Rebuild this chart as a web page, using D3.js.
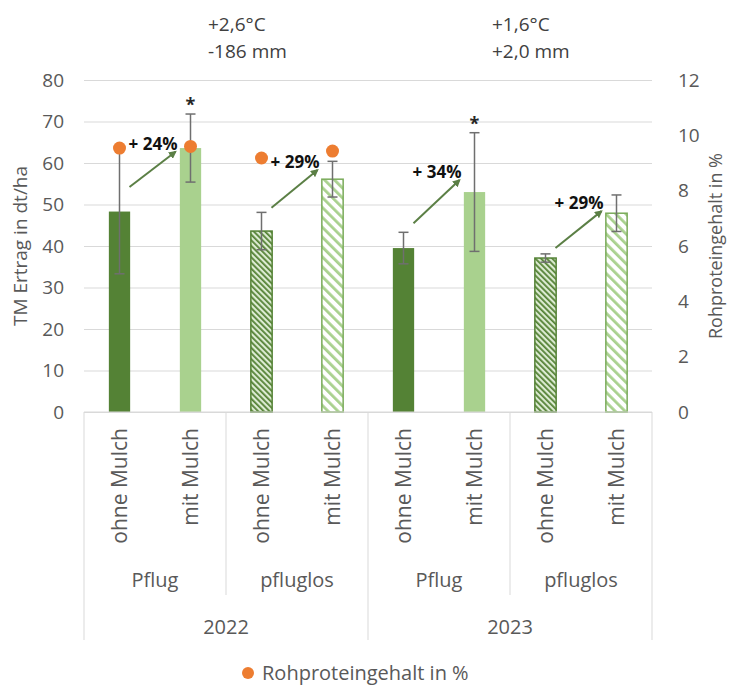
<!DOCTYPE html>
<html lang="de">
<head>
    <meta charset="UTF-8">
    <script src="https://d3js.org/d3.v7.min.js"></script>
    <style>
        body { margin: 0; background: #fff; }
        text { font-family: "Open Sans", sans-serif; }
    </style>
    <title>TM Ertrag und Rohproteingehalt</title>
</head>
<body>
    <script>
        // Data
        const years = ["2022", "2023"];
        const tillage = ["Pflug", "pfluglos"];
        const mulch = ["ohne Mulch", "mit Mulch"];
        const yieldMean = [48.3, 63.6, 43.6, 56.1, 39.5, 53.0, 37.1, 47.9];
        const yieldErr = [15.0, 8.2, 4.5, 4.3, 3.8, 14.3, 1.0, 4.4];
        const protein = [9.54, 9.6, 9.18, 9.43, null, null, null, null];
        const significant = [false, true, false, false, false, true, false, false];
        const gainLabels = ["+ 24%", "+ 29%", "+ 34%", "+ 29%"];
        const arrowFrom = [54.2, 49.2, 45.5, 39.5];
        const arrowTo = [62.7, 58.3, 55.9, 48.4];
        const climate = [["+2,6°C", "-186 mm"], ["+1,6°C", "+2,0 mm"]];
        const yTicks = [0, 10, 20, 30, 40, 50, 60, 70, 80];
        const y2Ticks = [0, 2, 4, 6, 8, 10, 12];

        const width = 730, height = 686;
        const margin = { top: 80, right: 78, bottom: 274, left: 84 };
        const plotW = width - margin.left - margin.right;
        const plotH = height - margin.top - margin.bottom;
        const grey = "#595959";

        // one row per bar
        const rows = [];
        years.forEach(yr => tillage.forEach(t => mulch.forEach(m => {
            const i = rows.length;
            rows.push({ key: yr + t + m, year: yr, till: t, mulch: m,
                value: yieldMean[i], err: yieldErr[i], protein: protein[i], star: significant[i] });
        })));

        const svg = d3.select("body").append("svg")
            .attr("width", width).attr("height", height);

        const defs = svg.append("defs");
        function hatch(id, bg, stroke, size, sw) {
            const p = defs.append("pattern").attr("id", id)
                .attr("patternUnits", "userSpaceOnUse")
                .attr("width", size).attr("height", size)
                .attr("patternTransform", "rotate(-45)");
            p.append("rect").attr("width", size).attr("height", size).attr("fill", bg);
            p.append("rect").attr("width", sw).attr("height", size).attr("fill", stroke);
        }
        hatch("hatchDark", "#dcebd2", "#548235", 4, 1.8);
        hatch("hatchLight", "#ffffff", "#a9d18e", 7, 2.8);

        const g = svg.append("g").attr("transform", `translate(${margin.left},${margin.top})`);

        const x = d3.scaleBand().domain(rows.map(d => d.key)).range([0, plotW]).padding(0);
        const y = d3.scaleLinear().domain([0, 80]).range([plotH, 0]);
        const y2 = d3.scaleLinear().domain([0, 12]).range([plotH, 0]);
        const barW = x.bandwidth() * 0.3;
        const cx = d => x(d.key) + x.bandwidth() / 2;

        // gridlines
        g.append("g")
            .call(d3.axisLeft(y).tickValues(yTicks).tickSize(-plotW).tickFormat(""))
            .call(a => a.select(".domain").remove())
            .call(a => a.selectAll("line").attr("stroke", "#d9d9d9").attr("stroke-width", 1));

        // left axis labels
        g.append("g")
            .call(d3.axisLeft(y).tickValues(yTicks).tickSize(0).tickPadding(20))
            .call(a => a.select(".domain").remove())
            .call(a => a.selectAll("text").style("font-size", "19px").style("fill", grey));

        // right axis labels
        g.append("g").attr("transform", `translate(${plotW},0)`)
            .call(d3.axisRight(y2).tickValues(y2Ticks).tickSize(0).tickPadding(26))
            .call(a => a.select(".domain").remove())
            .call(a => a.selectAll("text").style("font-size", "19px").style("fill", grey));

        // axis titles
        g.append("text")
            .attr("transform", `translate(${-64},${plotH / 2}) rotate(-90)`)
            .attr("text-anchor", "middle").attr("dy", "0.35em")
            .style("font-size", "19px").style("fill", grey).text("TM Ertrag in dt/ha");
        g.append("text")
            .attr("transform", `translate(${plotW + 64},${plotH / 2}) rotate(-90)`)
            .attr("text-anchor", "middle").attr("dy", "0.35em")
            .style("font-size", "18px").style("fill", grey).text("Rohproteingehalt in %");

        // bars
        function barFill(d) {
            if (d.till === "Pflug") return d.mulch === "ohne Mulch" ? "#548235" : "#a9d18e";
            return d.mulch === "ohne Mulch" ? "url(#hatchDark)" : "url(#hatchLight)";
        }
        g.selectAll("rect.bar").data(rows).enter().append("rect")
            .attr("class", "bar")
            .attr("x", d => cx(d) - barW / 2)
            .attr("y", d => y(d.value))
            .attr("width", barW)
            .attr("height", d => plotH - y(d.value))
            .attr("fill", barFill)
            .attr("stroke", d => d.till === "Pflug" ? "none" : (d.mulch === "ohne Mulch" ? "#548235" : "#7aab5a"))
            .attr("stroke-width", 1.5);

        // x axis baseline
        g.append("line").attr("x1", 0).attr("x2", plotW).attr("y1", plotH).attr("y2", plotH)
            .attr("stroke", "#d9d9d9");

        // error bars
        const eb = g.selectAll("g.err").data(rows).enter().append("g").attr("class", "err")
            .attr("stroke", "#6f6f6f").attr("stroke-width", 1.5);
        eb.append("line").attr("x1", cx).attr("x2", cx)
            .attr("y1", d => y(d.value + d.err)).attr("y2", d => y(d.value - d.err));
        eb.append("line").attr("x1", d => cx(d) - 5).attr("x2", d => cx(d) + 5)
            .attr("y1", d => y(d.value + d.err)).attr("y2", d => y(d.value + d.err));
        eb.append("line").attr("x1", d => cx(d) - 5).attr("x2", d => cx(d) + 5)
            .attr("y1", d => y(d.value - d.err)).attr("y2", d => y(d.value - d.err));

        // significance stars
        g.selectAll("text.star").data(rows.filter(d => d.star)).enter().append("text")
            .attr("class", "star")
            .attr("x", cx).attr("y", d => y(d.value + d.err) - 3)
            .attr("text-anchor", "middle")
            .style("font-size", "18px").style("font-weight", "bold").style("fill", "#262626")
            .text("*");

        // protein dots
        g.selectAll("circle.prot").data(rows.filter(d => d.protein != null)).enter().append("circle")
            .attr("class", "prot")
            .attr("cx", cx).attr("cy", d => y2(d.protein)).attr("r", 6.5)
            .attr("fill", "#ed7d31");

        // arrows with gains
        defs.append("marker").attr("id", "arrowHead")
            .attr("viewBox", "0 0 10 10").attr("refX", 8).attr("refY", 5)
            .attr("markerWidth", 4).attr("markerHeight", 4).attr("orient", "auto")
            .append("path").attr("d", "M0,0L10,5L0,10z").attr("fill", "#5b7f45");

        const pairs = gainLabels.map((lab, i) => ({
            from: rows[i * 2], to: rows[i * 2 + 1], label: lab, v0: arrowFrom[i], v1: arrowTo[i]
        }));
        pairs.forEach(p => {
            const x0 = cx(p.from) + 10, x1 = cx(p.to) - 15;
            g.append("line")
                .attr("x1", x0).attr("y1", y(p.v0)).attr("x2", x1).attr("y2", y(p.v1))
                .attr("stroke", "#5b7f45").attr("stroke-width", 2)
                .attr("marker-end", "url(#arrowHead)");
            g.append("text")
                .attr("x", x1 + 2).attr("y", y(p.v1) - 8).attr("dy", "0.35em")
                .attr("text-anchor", "end")
                .style("font-size", "17px").style("font-weight", "bold").style("fill", "#111")
                .text(p.label);
        });

        // category axis: mulch labels
        g.selectAll("text.mulch").data(rows).enter().append("text")
            .attr("class", "mulch")
            .attr("transform", d => `translate(${cx(d)},${plotH + 16}) rotate(-90)`)
            .attr("text-anchor", "end").attr("dy", "0.35em")
            .style("font-size", "21px").style("fill", grey).text(d => d.mulch);

        // tillage labels and separators
        const tillGroups = [];
        years.forEach(yr => tillage.forEach(t => tillGroups.push({ year: yr, till: t })));
        const groupW = x.bandwidth() * mulch.length;
        tillGroups.forEach((tg, i) => {
            g.append("text")
                .attr("x", groupW * i + groupW / 2).attr("y", plotH + 175)
                .attr("text-anchor", "middle")
                .style("font-size", "20px").style("fill", grey).text(tg.till);
        });
        const yearW = groupW * tillage.length;
        d3.range(tillGroups.length + 1).forEach(i => {
            const isYear = i % tillage.length === 0;
            g.append("line")
                .attr("x1", groupW * i).attr("x2", groupW * i)
                .attr("y1", plotH).attr("y2", plotH + (isYear ? 228 : 183))
                .attr("stroke", "#d9d9d9");
        });
        years.forEach((yr, i) => {
            g.append("text")
                .attr("x", yearW * i + yearW / 2).attr("y", plotH + 222)
                .attr("text-anchor", "middle")
                .style("font-size", "20px").style("fill", grey).text(yr);
            // climate annotation above
            climate[i].forEach((line, j) => {
                g.append("text")
                    .attr("x", yearW * i + yearW / 2 - 18).attr("y", -49 + j * 27)
                    .style("font-size", "19px").style("fill", "#404040").text(line);
            });
        });

        // legend
        const leg = svg.append("g").attr("transform", `translate(248,${height - 13})`);
        leg.append("circle").attr("r", 6).attr("fill", "#ed7d31");
        leg.append("text").attr("x", 14).attr("dy", "0.35em")
            .style("font-size", "20px").style("fill", grey).text("Rohproteingehalt in %");
    </script>
</body>
</html>
